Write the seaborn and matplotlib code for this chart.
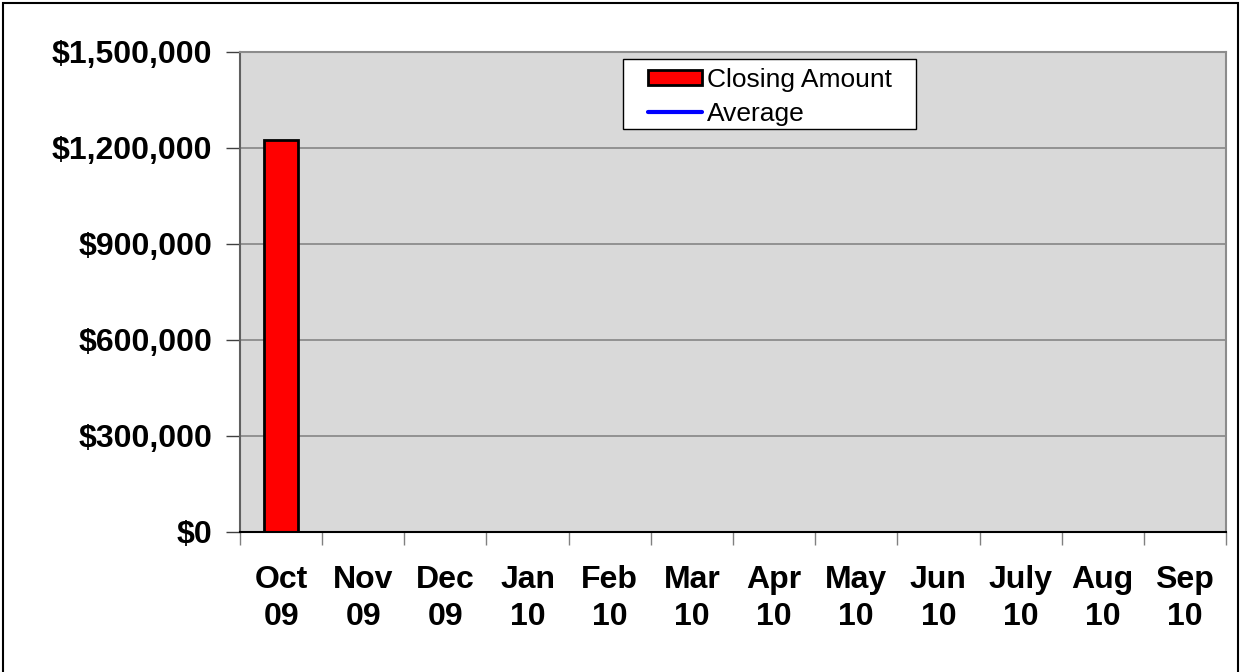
import numpy as np
import pandas as pd
import matplotlib
matplotlib.use('Agg')
import matplotlib.pyplot as plt
from matplotlib.patches import Rectangle
from matplotlib.ticker import FuncFormatter, FixedLocator
import seaborn as sns

sns.set_theme(style='white')
plt.rcParams['font.family'] = ['Liberation Sans', 'DejaVu Sans']
plt.rcParams['text.color'] = 'black'
plt.rcParams['xtick.color'] = 'black'
plt.rcParams['ytick.color'] = 'black'

# data (only Oct 09 has a closing amount so far)
months = ['Oct\n09', 'Nov\n09', 'Dec\n09', 'Jan\n10', 'Feb\n10', 'Mar\n10',
          'Apr\n10', 'May\n10', 'Jun\n10', 'July\n10', 'Aug\n10', 'Sep\n10']
closing = [1225000] + [np.nan] * 11
average = [1225000] + [np.nan] * 11
yticks = [0, 300000, 600000, 900000, 1200000, 1500000]

df = pd.DataFrame({'Month': months, 'Closing': closing, 'Average': average})

fig = plt.figure(figsize=(12.43, 6.72), dpi=100)
ax = fig.add_axes([240/1243, 1-532/672, 986/1243, 480/672])
ax.set_facecolor('#D9D9D9')

sns.barplot(data=df, x='Month', y='Closing', order=months, color='#FF0000',
            saturation=1, width=0.42, edgecolor='black', linewidth=2,
            label='Closing Amount', ax=ax)
sns.lineplot(x=np.arange(len(months)), y=df['Average'], color='#0000FF',
             linewidth=3, label='Average', ax=ax)

ax.set_xlim(-0.5, len(months) - 0.5)
ax.set_ylim(0, 1500000)
ax.set_yticks(yticks)
ax.yaxis.set_major_formatter(FuncFormatter(lambda v, p: '${:,.0f}'.format(v)))
ax.grid(axis='y', color='#8C8C8C', linewidth=1.3)
ax.set_axisbelow(True)

ax.set_xticks(np.arange(len(months)))
ax.set_xticklabels(months, fontsize=23, fontweight='bold', linespacing=1.3)
ax.xaxis.set_minor_locator(FixedLocator(np.arange(len(months) + 1) - 0.5))
ax.tick_params(axis='x', which='major', length=0, pad=24)
ax.tick_params(axis='x', which='minor', length=9, width=1, color='#808080',
               bottom=True)
ax.tick_params(axis='y', length=10, width=1, color='#404040', pad=10,
               labelsize=23, left=True)
for t in ax.get_yticklabels():
    t.set_fontweight('bold')

ax.set_xlabel('')
ax.set_ylabel('')

for side in ['top', 'right']:
    ax.spines[side].set_color('#8C8C8C')
    ax.spines[side].set_linewidth(1.5)
ax.spines['left'].set_color('#606060')
ax.spines['left'].set_linewidth(1.5)
ax.spines['bottom'].set_color('black')
ax.spines['bottom'].set_linewidth(1.5)

# legend box drawn separately so the padding matches the original
ax.add_patch(Rectangle((0.3884, 0.8396), 0.2972, 0.1458, transform=ax.transAxes,
                       facecolor='white', edgecolor='black', linewidth=1,
                       zorder=4))
handles, labels = ax.get_legend_handles_labels()
order = [labels.index('Closing Amount'), labels.index('Average')]
leg = ax.legend([handles[i] for i in order], [labels[i] for i in order],
                loc='upper left', bbox_to_anchor=(0.4138, 0.967),
                borderaxespad=0, borderpad=0, fontsize=19, frameon=False,
                handlelength=2.05, handleheight=0.55, handletextpad=0.2,
                labelspacing=0.38)
leg.set_zorder(5)

fig.patches.append(Rectangle((3/1243, -0.01), 1235/1243, 1.01 - 3/672,
                             transform=fig.transFigure, fill=False,
                             edgecolor='black', linewidth=1.5))

fig.savefig('out.png', dpi=100)
